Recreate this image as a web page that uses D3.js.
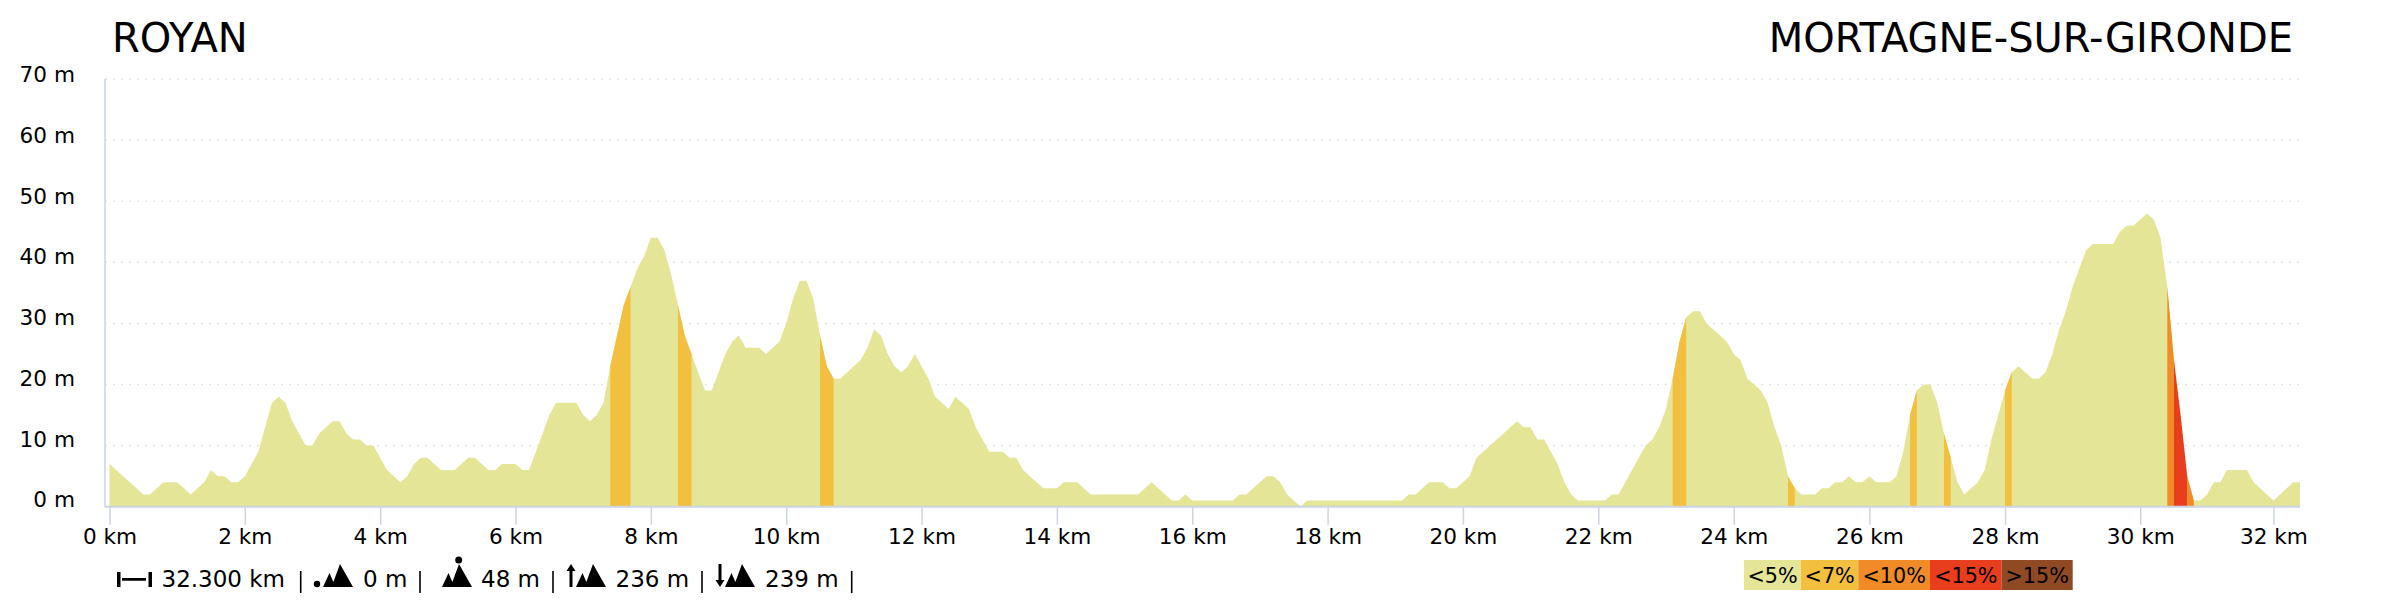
<!DOCTYPE html>
<html>
<head>
<meta charset="utf-8">
<script src="https://cdn.jsdelivr.net/npm/d3@7"></script>
<style>
  html, body { margin: 0; padding: 0; background: #fff; }
  text { font-family: "DejaVu Sans", sans-serif; fill: #000; }
</style>
</head>
<body>
<div id="chart"></div>
<script>
// elevation in metres, one sample every 100 m
const elevations = [
  7,6,5,4,3,2,2,3,4,4, 4,3,2,3,4,6,5,5,4,4,
  5,7,9,13,17,18,17,14,12,10, 10,12,13,14,14,12,11,11,10,10,
  8,6,5,4,5,7,8,8,7,6, 6,6,7,8,8,7,6,6,7,7,
  7,6,6,9,12,15,17,17,17,17, 15,14,15,17,23,28,33,36,39,41,
  44,44,42,38,33,28,25,22,19,19, 22,25,27,28,26,26,26,25,26,27,
  30,34,37,37,34,28,23,21,21,22, 23,24,26,29,28,25,23,22,23,25,
  23,21,18,17,16,18,17,16,13,11, 9,9,9,8,8,6,5,4,3,3,
  3,4,4,4,3,2,2,2,2,2, 2,2,2,3,4,3,2,1,1,2,
  1,1,1,1,1,1,1,2,2,3, 4,5,5,4,2,1,0,1,1,1,
  1,1,1,1,1,1,1,1,1,1, 1,1,2,2,3,4,4,4,3,3,
  4,5,8,9,10,11,12,13,14,13, 13,11,11,9,7,4,2,1,1,1,
  1,1,2,2,4,6,8,10,11,13, 16,21,27,31,32,32,30,29,28,27,
  25,24,21,20,19,17,13,10,5,3, 2,2,2,3,3,4,4,5,4,4,
  5,4,4,4,5,9,15,19,20,20, 17,12,8,4,2,3,4,6,11,15,
  19,22,23,22,21,21,22,25,29,32, 36,39,42,43,43,43,43,45,46,46,
  47,48,47,44,36,24,15,5,1,1, 2,4,4,6,6,6,6,4,3,2,
  1,2,3,4,4
];

// stretches of the route steeper than 5 %, as km start / end / grade class
const steepStart = [7.4, 8.4, 10.5, 23.1, 24.8, 26.6, 27.1, 28.0, 30.4, 30.5, 30.7];
const steepEnd   = [7.7, 8.6, 10.7, 23.3, 24.9, 26.7, 27.2, 28.1, 30.5, 30.7, 30.8];
const steepClass = [1, 1, 1, 1, 1, 1, 1, 1, 2, 3, 2];

const gradeLabels = ["<5%", "<7%", "<10%", "<15%", ">15%"];
const gradeColors = ["#e4e597", "#f2bf3f", "#f08b27", "#e93e1d", "#8f4a23"];
const gradeEdges = [1744, 1801, 1858.3, 1930, 2001.7, 2072.7];

const kmTicks = d3.range(0, 33, 2);
const altTicks = d3.range(0, 71, 10);

const startName = "ROYAN";
const endName = "MORTAGNE-SUR-GIRONDE";

const summaryTexts = ["32.300 km", "0 m", "48 m", "236 m", "239 m"];
const summaryTextX = [161.5, 363, 481, 615.5, 765];
const summaryBarX = [300.7, 420, 553, 702, 851.7];

const width = 2400, height = 600;

const svg = d3.select("#chart").append("svg")
  .attr("width", width)
  .attr("height", height)
  .style("display", "block");

const x = d3.scaleLinear()
  .domain([0, 23.1, 28, 30.4, 32.4])
  .range([109.5, 1672.7, 2005, 2167.3, 2300]);

const y = d3.scaleLinear().domain([0, 70]).range([506.7, 79]);
// labels drift a little from their grid lines in the original
const yLabelBase = d3.scaleLinear().domain([0, 70]).range([507.3, 82.3]);

const samples = elevations.map((e, i) => ({ km: i / 10, e: e }));

const area = d3.area()
  .x(d => x(d.km))
  .y0(y(0))
  .y1(d => y(d.e));

// grid first so the profile sits on top of it
svg.append("g").selectAll("line")
  .data(altTicks)
  .enter().append("line")
  .attr("x1", 105).attr("x2", 2300)
  .attr("y1", d => y(d)).attr("y2", d => y(d))
  .attr("stroke", "#e3e3e3")
  .attr("stroke-width", 1.5)
  .attr("stroke-dasharray", "2,6");

const yAxis = d3.axisLeft(y).tickValues(altTicks).tickFormat(d => d + " m").tickSize(0).tickPadding(0);
const yLabels = svg.append("g").attr("transform", "translate(75,0)").call(yAxis);
yLabels.select(".domain").remove();
yLabels.selectAll("text")
  .attr("font-size", 21.6)
  .attr("font-family", null)
  .attr("dy", null)
  .attr("y", d => yLabelBase(d) - y(d) - 0.5)
  .style("fill", "#000");

svg.append("line")
  .attr("x1", 105).attr("x2", 105)
  .attr("y1", y(70)).attr("y2", y(0))
  .attr("stroke", "#c7d6de")
  .attr("stroke-width", 1.5);

svg.append("path")
  .attr("d", area(samples))
  .attr("fill", gradeColors[0]);

steepStart.forEach((s, i) => {
  const part = samples.filter(d => d.km >= s - 0.001 && d.km <= steepEnd[i] + 0.001);
  svg.append("path")
    .attr("d", area(part))
    .attr("fill", gradeColors[steepClass[i]]);
});

const xAxis = d3.axisBottom(x).tickValues(kmTicks).tickFormat(d => d + " km").tickSize(18).tickPadding(0);
const xG = svg.append("g").attr("transform", `translate(0,${y(0)})`).call(xAxis);
xG.select(".domain").remove();
xG.selectAll("line").attr("stroke", "#cdd5e3").attr("stroke-width", 1.5);
xG.selectAll("text")
  .attr("font-size", 21.6)
  .attr("font-family", null)
  .attr("dy", null)
  .attr("y", 37.5)
  .style("fill", "#000");

svg.append("line")
  .attr("x1", 105).attr("x2", 2300)
  .attr("y1", y(0)).attr("y2", y(0))
  .attr("stroke", "#cdd5e3")
  .attr("stroke-width", 2);

svg.append("text").attr("x", 112).attr("y", 52).attr("font-size", 40).text(startName);
svg.append("text").attr("x", 2293).attr("y", 52).attr("font-size", 40).attr("text-anchor", "end").text(endName);

// footer summary
const footerBase = 587;
summaryTexts.forEach((t, i) => {
  svg.append("text")
    .attr("x", summaryTextX[i])
    .attr("y", footerBase)
    .attr("font-size", 23)
    .text(t);
  svg.append("line")
    .attr("x1", summaryBarX[i]).attr("x2", summaryBarX[i])
    .attr("y1", 571).attr("y2", 593)
    .attr("stroke", "#000")
    .attr("stroke-width", 1.6);
});

function mountains(g, ox) {
  g.append("path")
    .attr("d", `M${ox},587 L${ox + 6.5},573 L${ox + 12.5},587 Z M${ox + 8.5},587 L${ox + 17},564 L${ox + 30},587 Z`)
    .attr("fill", "#000");
}

const icons = svg.append("g");

// distance icon
icons.append("path")
  .attr("d", "M117,572 h3.5 v15 h-3.5 Z M148.5,572 h3.5 v15 h-3.5 Z M122,578 h24 v2.8 h-24 Z")
  .attr("fill", "#000");

// lowest point
mountains(icons, 323);
icons.append("circle").attr("cx", 317).attr("cy", 584).attr("r", 3.2).attr("fill", "#000");

// highest point
mountains(icons, 442);
icons.append("circle").attr("cx", 458.7).attr("cy", 560).attr("r", 3.5).attr("fill", "#000");

// ascent
mountains(icons, 576);
icons.append("path")
  .attr("d", "M571,564 l4.5,7 h-3 v16 h-3 v-16 h-3 Z")
  .attr("fill", "#000");

// descent
mountains(icons, 725);
icons.append("path")
  .attr("d", "M720,587 l4.5,-7 h-3 v-16 h-3 v16 h-3 Z")
  .attr("fill", "#000");

// grade legend
gradeLabels.forEach((label, i) => {
  svg.append("rect")
    .attr("x", gradeEdges[i])
    .attr("y", 560)
    .attr("width", gradeEdges[i + 1] - gradeEdges[i])
    .attr("height", 30)
    .attr("fill", gradeColors[i]);
  svg.append("text")
    .attr("x", (gradeEdges[i] + gradeEdges[i + 1]) / 2)
    .attr("y", 583)
    .attr("text-anchor", "middle")
    .attr("font-size", 20.7)
    .text(label);
});
</script>
</body>
</html>
